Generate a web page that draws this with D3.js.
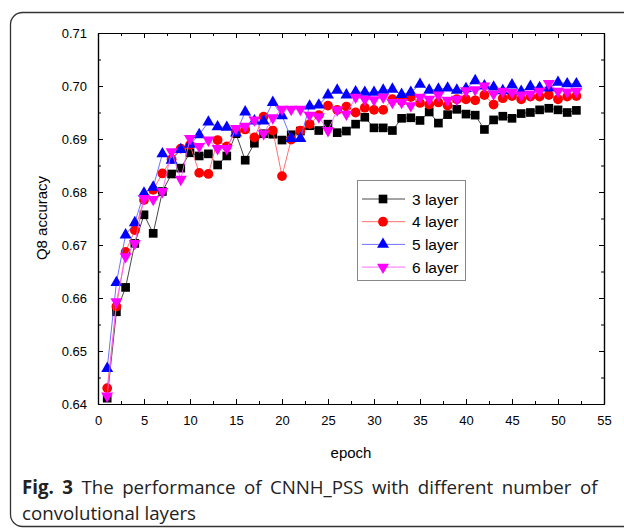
<!DOCTYPE html>
<html>
<head>
<meta charset="utf-8">
<script src="https://cdn.jsdelivr.net/npm/d3@7"></script>
<style>
  body { margin: 0; background: #fff; }
  svg { display: block; }
</style>
</head>
<body>
<svg id="chart" width="624" height="530"></svg>
<script>
// epochs 1..52
var epochs = d3.range(1, 53);

var layer3 = [0.6411,0.6574,0.6620,0.6703,0.6757,0.6722,0.6801,0.6834,0.6845,0.6874,
  0.6868,0.6872,0.6851,0.6868,0.6910,0.6860,0.6892,0.6910,0.6909,0.6898,
  0.6908,0.6915,0.6925,0.6916,0.6928,0.6912,0.6915,0.6928,0.6941,0.6921,
  0.6921,0.6916,0.6939,0.6940,0.6935,0.6951,0.6930,0.6946,0.6956,0.6947,
  0.6945,0.6918,0.6936,0.6943,0.6939,0.6948,0.6950,0.6955,0.6958,0.6955,
  0.6950,0.6954];
var layer4 = [0.6430,0.6584,0.6687,0.6728,0.6785,0.6804,0.6835,0.6862,0.6882,0.6889,
  0.6836,0.6834,0.6898,0.6886,0.6914,0.6918,0.6903,0.6942,0.6916,0.6830,
  0.6899,0.6916,0.6928,0.6945,0.6963,0.6955,0.6961,0.6950,0.6959,0.6955,
  0.6955,0.6975,0.6972,0.6979,0.6968,0.6965,0.6969,0.6963,0.6975,0.6975,
  0.6973,0.6983,0.6965,0.6977,0.6981,0.6975,0.6980,0.6980,0.6983,0.6975,
  0.6980,0.6981];
var layer5 = [0.6467,0.6629,0.6719,0.6742,0.6798,0.6809,0.6872,0.6860,0.6880,0.6890,
  0.6908,0.6932,0.6923,0.6922,0.6911,0.6951,0.6934,0.6934,0.6969,0.6944,
  0.6901,0.6901,0.6962,0.6964,0.6983,0.6992,0.6983,0.6989,0.6988,0.6988,
  0.6992,0.6994,0.6984,0.6988,0.7003,0.6992,0.6994,0.6996,0.6992,0.6995,
  0.7010,0.7000,0.6998,0.6991,0.7002,0.6990,0.6999,0.6997,0.6996,0.7007,
  0.7004,0.7004];
var layer6 = [0.6415,0.6593,0.6678,0.6703,0.6788,0.6786,0.6801,0.6876,0.6824,0.6901,
  0.6886,0.6898,0.6882,0.6882,0.6920,0.6924,0.6936,0.6910,0.6940,0.6956,
  0.6956,0.6956,0.6945,0.6942,0.6916,0.6955,0.6947,0.6979,0.6975,0.6974,
  0.6979,0.6969,0.6969,0.6963,0.6979,0.6975,0.6983,0.6973,0.6975,0.6991,
  0.6993,0.7000,0.6985,0.6990,0.6988,0.6983,0.6985,0.6990,0.7005,0.6990,
  0.6989,0.6990];

var seriesNames = ["3 layer", "4 layer", "5 layer", "6 layer"];
var seriesValues = [layer3, layer4, layer5, layer6];
var markerColors = ["#000000", "#ff0000", "#0000ff", "#ff00ff"];
var lineColors = ["#333333", "#ff6060", "#6060ff", "#ff60ff"];
var markerTypes = [d3.symbolSquare, d3.symbolCircle, d3.symbolTriangle, d3.symbolTriangle];

var xTicks = d3.range(0, 56, 5);
var yTicks = [0.64, 0.65, 0.66, 0.67, 0.68, 0.69, 0.70, 0.71];

var svg = d3.select("#chart");

// outer rounded frame
svg.append("rect")
  .attr("x", 10.5).attr("y", 12.5)
  .attr("width", 640).attr("height", 514)
  .attr("rx", 12).attr("ry", 12)
  .attr("fill", "none")
  .attr("stroke", "#333").attr("stroke-width", 1.3);

var x = d3.scaleLinear().domain([0, 55]).range([98, 604]);
var y = d3.scaleLinear().domain([0.64, 0.71]).range([404, 33]);

var plot = svg.append("g");

// axes, ticks pointing inward
var minorX = d3.range(0, 55.1, 2.5);
var minorY = d3.range(0.64, 0.7101, 0.005);

function drawAxis(axis, transform) {
  var g = plot.append("g").attr("transform", transform).call(axis);
  g.select(".domain").attr("stroke", "#000").attr("stroke-width", 1.2);
  g.selectAll(".tick line").attr("stroke", "#000").attr("stroke-width", 1);
  g.selectAll("text").attr("font-family", "Liberation Sans, Arial, sans-serif")
    .attr("font-size", 13).attr("fill", "#000");
  return g;
}

// bottom
drawAxis(d3.axisBottom(x).tickValues(minorX).tickSizeOuter(0)
  .tickSizeInner(-3).tickFormat(""), "translate(0,404)");
drawAxis(d3.axisBottom(x).tickValues(xTicks).tickSizeOuter(0)
  .tickSizeInner(-5).tickPadding(12).tickFormat(d3.format("d")), "translate(0,404)");
// top
drawAxis(d3.axisTop(x).tickValues(minorX).tickSizeOuter(0)
  .tickSizeInner(-3).tickFormat(""), "translate(0,33)");
drawAxis(d3.axisTop(x).tickValues(xTicks).tickSizeOuter(0)
  .tickSizeInner(-5).tickFormat(""), "translate(0,33)");
// left
drawAxis(d3.axisLeft(y).tickValues(minorY).tickSizeOuter(0)
  .tickSizeInner(-3).tickFormat(""), "translate(98,0)");
drawAxis(d3.axisLeft(y).tickValues(yTicks).tickSizeOuter(0)
  .tickSizeInner(-5).tickPadding(11).tickFormat(d3.format(".2f")), "translate(98,0)");
// right
drawAxis(d3.axisRight(y).tickValues(minorY).tickSizeOuter(0)
  .tickSizeInner(-3).tickFormat(""), "translate(604,0)");
drawAxis(d3.axisRight(y).tickValues(yTicks).tickSizeOuter(0)
  .tickSizeInner(-5).tickFormat(""), "translate(604,0)");

// axis titles
svg.append("text")
  .attr("x", 351).attr("y", 458)
  .attr("text-anchor", "middle")
  .attr("font-family", "Liberation Sans, Arial, sans-serif")
  .attr("font-size", 15)
  .text("epoch");

svg.append("text")
  .attr("transform", "translate(47,218) rotate(-90)")
  .attr("text-anchor", "middle")
  .attr("font-family", "Liberation Sans, Arial, sans-serif")
  .attr("font-size", 15)
  .text("Q8 accuracy");

// series
var line = d3.line()
  .x(function(d, i) { return x(epochs[i]); })
  .y(function(d) { return y(d); });

function marker(i) {
  var size = i === 0 ? 75 : (i === 1 ? 75 : 62);
  return d3.symbol().type(markerTypes[i]).size(size)();
}

seriesValues.forEach(function(vals, i) {
  var g = plot.append("g");
  g.append("path")
    .datum(vals)
    .attr("d", line)
    .attr("fill", "none")
    .attr("stroke", lineColors[i])
    .attr("stroke-width", 0.9);
  g.selectAll("path.pt")
    .data(vals)
    .enter().append("path")
    .attr("class", "pt")
    .attr("d", marker(i))
    .attr("transform", function(d, j) {
      var rot = i === 3 ? " rotate(180)" : "";
      return "translate(" + x(epochs[j]) + "," + y(d) + ")" + rot;
    })
    .attr("fill", markerColors[i]);
});

// legend
var legend = svg.append("g").attr("transform", "translate(357,180)");
legend.append("rect")
  .attr("x", 0.5).attr("y", 0.5)
  .attr("width", 108).attr("height", 100)
  .attr("fill", "#fff")
  .attr("stroke", "#888").attr("stroke-width", 1);

var rows = legend.selectAll("g.row")
  .data(seriesNames)
  .enter().append("g")
  .attr("class", "row")
  .attr("transform", function(d, i) { return "translate(0," + (19 + i * 22.7) + ")"; });

rows.append("line")
  .attr("x1", 5).attr("x2", 48)
  .attr("stroke", function(d, i) { return lineColors[i]; })
  .attr("stroke-width", 0.9);
rows.append("path")
  .attr("d", function(d, i) { return marker(i); })
  .attr("transform", function(d, i) { return "translate(26,0)" + (i === 3 ? " rotate(180)" : ""); })
  .attr("fill", function(d, i) { return markerColors[i]; });
rows.append("text")
  .attr("x", 55).attr("y", 5.5)
  .attr("font-family", "Liberation Sans, Arial, sans-serif")
  .attr("font-size", 15.5)
  .text(function(d) { return d; });

// caption (first line justified in the original)
var cap = svg.append("text")
  .attr("x", 22).attr("y", 494)
  .attr("font-family", "Open Sans, sans-serif")
  .attr("font-size", 18.7)
  .attr("word-spacing", 3.6)
  .attr("fill", "#222");
cap.append("tspan").attr("font-weight", "bold").text("Fig. 3");
cap.append("tspan").text(" The performance of CNNH_PSS with different number of");
svg.append("text")
  .attr("x", 22).attr("y", 520)
  .attr("font-family", "Open Sans, sans-serif")
  .attr("font-size", 18.7)
  .attr("fill", "#222")
  .text("convolutional layers");
</script>
</body>
</html>
